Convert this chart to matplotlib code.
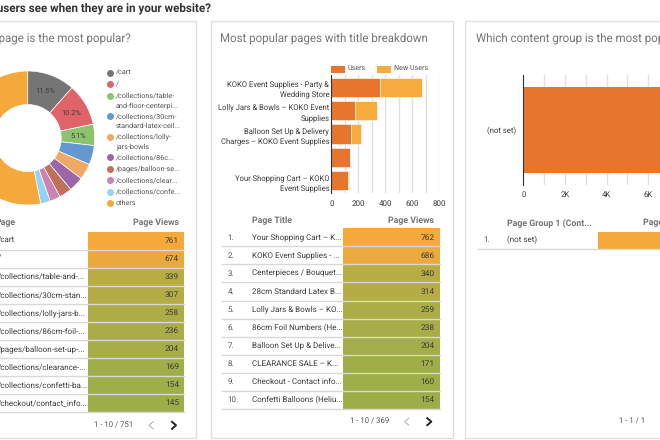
import matplotlib

matplotlib.use("Agg")
import matplotlib.pyplot as plt
from matplotlib.colors import LinearSegmentedColormap, Normalize
from matplotlib.lines import Line2D
from matplotlib.patches import Rectangle

plt.rcParams["font.family"] = ["Roboto", "DejaVu Sans"]
plt.rcParams["text.hinting"] = "no_hinting"

W, H = 660, 440

# donut
pie_labels = ["/cart", "/", "/collections/table-", "/collections/30cm-", "/collections/lolly-",
              "/collections/86c...", "/pages/balloon-se...", "/collections/clear...",
              "/collections/confe...", "others"]
pie_second_lines = ["", "", "and-floor-centerpi...", "standard-latex-ceil...", "jars-bowls",
                    "", "", "", "", ""]
pie_values = [761, 674, 339, 307, 258, 236, 204, 169, 154, 3515]
pie_colors = ["#757575", "#E0636A", "#8DC26F", "#6398D0", "#F0A963",
              "#9C66A8", "#BE7158", "#CE82B2", "#93D3F5", "#F5A93B"]

# left table
pages = ["/cart", "/", "/collections/table-and-...", "/collections/30cm-stan...",
         "/collections/lolly-jars-b...", "/collections/86cm-foil-...",
         "/pages/balloon-set-up-...", "/collections/clearance-...",
         "/collections/confetti-ba...", "/checkout/contact_info..."]
page_views = [761, 674, 339, 307, 258, 236, 204, 169, 154, 145]

# stacked bars
bar_titles = ["KOKO Event Supplies - Party &\nWedding Store",
              "Lolly Jars & Bowls \u2013 KOKO Event\nSupplies",
              "Balloon Set Up & Delivery\nCharges \u2013 KOKO Event Supplies",
              "",
              "Your Shopping Cart \u2013 KOKO\nEvent Supplies"]
users = [360, 175, 145, 135, 125]
new_users = [310, 165, 75, 5, 3]

# middle table
titles = ["Your Shopping Cart \u2013 K...", "KOKO Event Supplies - ...", "Centerpieces / Bouquet...",
          "28cm Standard Latex B...", "Lolly Jars & Bowls \u2013 KO...", "86cm Foil Numbers (He...",
          "Balloon Set Up & Delive...", "CLEARANCE SALE \u2013 K...", "Checkout - Contact info...",
          "Confetti Balloons (Heliu..."]
title_views = [762, 686, 340, 314, 259, 238, 204, 171, 160, 154]

# content group
group_labels = ["(not set)"]
group_views = [6617]

TEXT = "#3C3C3C"
GREY = "#757575"
LINE = "#E0E0E0"
ROW_LINE = "#D8D8D8"
heat = LinearSegmentedColormap.from_list("heat", ["#9DAE49", "#F6A93B"])


def px_axes(x0, y0, x1, y1, **kw):
    # axes given in image pixels, y downwards
    return fig.add_axes([x0 / W, 1 - y1 / H, (x1 - x0) / W, (y1 - y0) / H], **kw)


def chevron(x, y, direction, color, lw):
    bg.add_line(Line2D([x - direction * 2, x + direction * 2, x - direction * 2],
                       [y - 3.5, y, y + 3.5], color=color, lw=lw))


def heat_table(values, x0, x1, top, num_x, norm):
    row_h = 18.05
    for i, v in enumerate(values):
        y = top + i * row_h
        bg.add_patch(Rectangle((x0, y), x1 - x0, row_h, fc=heat(norm(v)), ec="none"))
        bg.plot([x0, x1], [y + row_h, y + row_h], color=ROW_LINE, lw=1)
        bg.text(num_x, y + row_h / 2, str(v), ha="right", va="center", fontsize=6, color=TEXT)


fig = plt.figure(figsize=(W / 100, H / 100), dpi=100)
bg = fig.add_axes([0, 0, 1, 1])
bg.set_xlim(0, W)
bg.set_ylim(H, 0)
bg.axis("off")

# cards
for x0, x1 in [(-20, 196), (210.5, 453), (465, 680)]:
    bg.add_patch(Rectangle((x0, 21), x1 - x0, 417, fc="white", ec=LINE, lw=1))

bg.text(211, 8, "What do users see when they are in your website?", ha="right", va="center",
        fontsize=8.35, fontweight="bold", color="#333333")
bg.text(130.7, 38, "Which page is the most popular?", ha="right", va="center", fontsize=8.3, color=GREY)
bg.text(220, 38, "Most popular pages with title breakdown", ha="left", va="center", fontsize=8.3, color=GREY)
bg.text(476, 38, "Which content group is the most popular?", ha="left", va="center", fontsize=8.3, color=GREY)

# donut
pie_ax = px_axes(27.7 - 67, 71, 27.7 + 67, 205)
pie_ax.pie(pie_values, colors=pie_colors, startangle=90, counterclock=False, radius=1,
           wedgeprops={"width": 0.5, "edgecolor": "white", "linewidth": 0.5},
           autopct=lambda p: f"{p:.1f}%" if p >= 5 else "", pctdistance=0.75,
           textprops={"fontsize": 5.3, "color": TEXT})
pie_ax.set_xlim(-1, 1)
pie_ax.set_ylim(-1, 1)

legend_ys = [73, 84.5, 95.7, 116.3, 136.7, 157.3, 168.7, 180.3, 191.7, 203]
for y, c, a, b in zip(legend_ys, pie_colors, pie_labels, pie_second_lines):
    bg.plot([109.7], [y], "o", ms=5, color=c, mec="none")
    bg.text(116, y, a, ha="left", va="center", fontsize=5.2, color="#555555")
    if b:
        bg.text(116, y + 9.6, b, ha="left", va="center", fontsize=5.2, color="#555555")

# left table
bg.text(16, 223, "Page", ha="right", va="center", fontsize=6.3, fontweight="bold", color=GREY)
bg.text(179, 223, "Page Views", ha="right", va="center", fontsize=6.3, fontweight="bold", color=GREY)
for i, p in enumerate(pages):
    y = 231.7 + i * 18.05
    bg.text(-2.5, y + 9, p, ha="left", va="center", fontsize=5.8, color=TEXT)
    bg.plot([-5, 88], [y + 18.05, y + 18.05], color=ROW_LINE, lw=1)
heat_table(page_views, 87.7, 184, 231.7, 179, Normalize(145, 761))
bg.text(114, 425.3, "1 - 10 / 751", ha="center", va="center", fontsize=5.6, color="#555555")
chevron(151, 425.3, -1, "#BDBDBD", 0.9)
chevron(174, 425.3, 1, "#222222", 1.4)

# stacked bars
bar_ax = px_axes(331.3, 75, 439.3, 193.3)
ypos = list(range(len(users)))
bar_ax.barh(ypos, users, height=0.82, color="#E7752E", edgecolor="white", linewidth=0.4, zorder=3)
bar_ax.barh(ypos, new_users, left=users, height=0.82, color="#F5AC3D", edgecolor="white", linewidth=0.4, zorder=3)
bar_ax.set_xlim(0, 800)
bar_ax.set_ylim(4.53, -0.52)
bar_ax.set_yticks(ypos, bar_titles, fontsize=5.5, color=TEXT, linespacing=1.45)
bar_ax.set_xticks([0, 200, 400, 600, 800])
bar_ax.set_xticks([100, 300, 500, 700], minor=True)
bar_ax.tick_params(axis="both", which="both", length=0)
bar_ax.tick_params(axis="y", pad=1.5)
bar_ax.tick_params(axis="x", labelsize=5.8, labelcolor=TEXT, pad=5)
bar_ax.grid(True, axis="x", which="both", color=LINE, lw=1, zorder=0)
bar_ax.set_axisbelow(True)
for side in ["top", "right", "bottom"]:
    bar_ax.spines[side].set_visible(False)
bar_ax.spines["left"].set_color("#333333")
bar_ax.spines["left"].set_zorder(5)

bg.add_patch(Rectangle((331, 66), 14, 7, fc="#E7752E", ec="none"))
bg.text(347.7, 69.5, "Users", ha="left", va="center", fontsize=5.1, color="#555555")
bg.add_patch(Rectangle((377, 66), 14, 7, fc="#F5AC3D", ec="none"))
bg.text(393.7, 69.5, "New Users", ha="left", va="center", fontsize=5.1, color="#555555")

# middle table
bg.text(251.7, 220.7, "Page Title", ha="left", va="center", fontsize=6.3, fontweight="bold", color=GREY)
bg.text(434.3, 220.7, "Page Views", ha="right", va="center", fontsize=6.3, fontweight="bold", color=GREY)
for i, t in enumerate(titles):
    y = 228.3 + i * 18.05
    bg.text(227.7, y + 9, f"{i + 1}.", ha="left", va="center", fontsize=5.8, color="#555555")
    bg.text(251.7, y + 9, t, ha="left", va="center", fontsize=5.8, color=TEXT)
    bg.plot([222, 343], [y + 18.05, y + 18.05], color=ROW_LINE, lw=1)
heat_table(title_views, 343, 439.7, 228.3, 434.3, Normalize(154, 762))
bg.text(370, 421.7, "1 - 10 / 369", ha="center", va="center", fontsize=5.6, color="#555555")
chevron(406.7, 421.7, -1, "#BDBDBD", 0.9)
chevron(429.3, 421.7, 1, "#222222", 1.4)

# content group
group_ax = px_axes(523.3, 75, 523.3 + 8 * 20.83, 185)
group_ax.barh([0], group_views, height=0.79, color="#E7752E", zorder=3)
group_ax.set_xlim(0, 8000)
group_ax.set_ylim(0.5, -0.5)
group_ax.set_yticks([0], group_labels, fontsize=5.6, color=TEXT)
group_ax.set_xticks([0, 2000, 4000, 6000, 8000], ["0", "2K", "4K", "6K", "8K"])
group_ax.set_xticks([1000, 3000, 5000, 7000], minor=True)
group_ax.tick_params(axis="both", which="both", length=0)
group_ax.tick_params(axis="y", pad=5.5)
group_ax.tick_params(axis="x", labelsize=5.6, labelcolor=TEXT, pad=4)
group_ax.grid(True, axis="x", which="both", color=LINE, lw=1, zorder=0)
group_ax.set_axisbelow(True)
for side in ["top", "right", "bottom"]:
    group_ax.spines[side].set_visible(False)
group_ax.spines["left"].set_color("#333333")
group_ax.spines["left"].set_zorder(5)

bg.text(507.3, 223, "Page Group 1 (Cont...", ha="left", va="center", fontsize=6.3, fontweight="bold", color=GREY)
bg.text(643, 223, "Page Views", ha="left", va="center", fontsize=6.3, fontweight="bold", color=GREY)
bg.text(483, 240, "1.", ha="left", va="center", fontsize=5.8, color="#555555")
bg.text(507.3, 240, group_labels[0], ha="left", va="center", fontsize=5.8, color=TEXT)
bg.add_patch(Rectangle((598, 232), 80, 17, fc="#F6A93B", ec="none"))
bg.plot([478, 680], [249.5, 249.5], color=ROW_LINE, lw=1)
bg.text(631.7, 421.7, "1 - 1 / 1", ha="center", va="center", fontsize=5.6, color="#555555")

fig.savefig("out.png", dpi=100)
